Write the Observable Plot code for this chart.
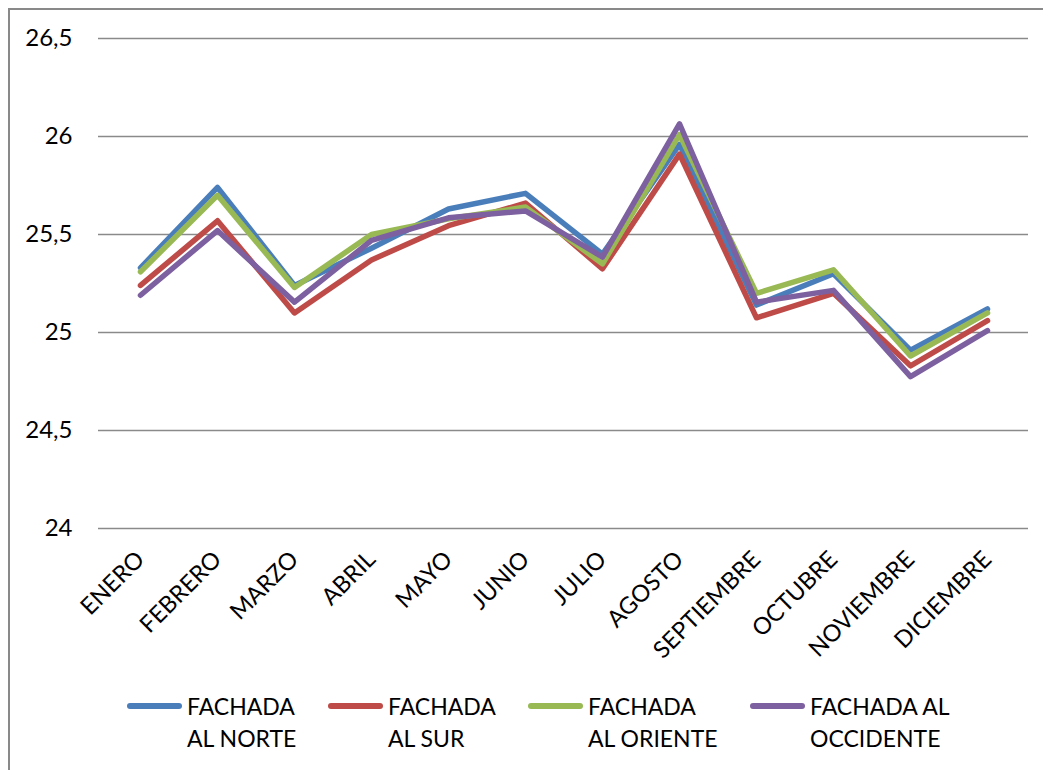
<!DOCTYPE html>
<html>
<head>
<meta charset="utf-8">
<script src="https://cdn.jsdelivr.net/npm/d3@7"></script>
<script src="https://cdn.jsdelivr.net/npm/@observablehq/plot@0.6"></script>
<style>
  html, body { margin: 0; padding: 0; background: #fff; }
  body { width: 1043px; height: 770px; overflow: hidden; position: relative; font-family: Lato, "Open Sans", sans-serif; }
  #frame { position: absolute; left: 8px; top: 8px; width: 1100px; height: 820px;
           border-left: 2px solid #898989; border-top: 2px solid #898989; }
  #chart { position: absolute; left: 0; top: 0; }
  .item { position: absolute; top: 690px; }
  .swatch { position: absolute; top: 13px; width: 55px; height: 6px; border-radius: 3px; }
  .label { position: absolute; left: 60px; top: 0; font-size: 23px; line-height: 32px; color: #000; white-space: nowrap; }
</style>
</head>
<body>
<div id="frame"></div>
<div id="chart"></div>
<div id="legend"></div>
<script>
// Monthly temperature by façade orientation (°C)
const meses = ["ENERO", "FEBRERO", "MARZO", "ABRIL", "MAYO", "JUNIO", "JULIO",
               "AGOSTO", "SEPTIEMBRE", "OCTUBRE", "NOVIEMBRE", "DICIEMBRE"];
const norte     = [25.33, 25.74, 25.24, 25.43, 25.63, 25.71, 25.40, 25.96, 25.14, 25.30, 24.91, 25.12];
const sur       = [25.24, 25.57, 25.10, 25.37, 25.545, 25.66, 25.325, 25.91, 25.075, 25.20, 24.83, 25.06];
const oriente   = [25.31, 25.70, 25.23, 25.50, 25.58, 25.64, 25.35, 26.01, 25.20, 25.32, 24.88, 25.10];
const occidente = [25.19, 25.52, 25.155, 25.47, 25.585, 25.62, 25.385, 26.065, 25.155, 25.215, 24.775, 25.01];

const series = ["FACHADA AL NORTE", "FACHADA AL SUR", "FACHADA AL ORIENTE", "FACHADA AL OCCIDENTE"];
const legendLines = [["FACHADA", "AL NORTE"], ["FACHADA", "AL SUR"], ["FACHADA", "AL ORIENTE"], ["FACHADA AL", "OCCIDENTE"]];
const colores = ["#4a7ebb", "#be4b48", "#98b954", "#7d60a0"];
const yTicks = [24, 24.5, 25, 25.5, 26, 26.5];

const valores = [norte, sur, oriente, occidente];
const data = series.flatMap((s, i) => meses.map((m, j) => ({serie: s, mes: m, valor: valores[i][j]})));

const chart = Plot.plot({
  width: 1043,
  height: 680,
  marginLeft: 98,
  marginRight: 15,
  marginTop: 38,
  marginBottom: 152,
  style: {fontSize: "23px", fontFamily: "Lato, 'Open Sans', sans-serif", color: "#000", background: "transparent"},
  x: {type: "point", domain: meses, padding: 0.5, label: null},
  y: {domain: [24, 26.5], label: null},
  color: {domain: series, range: colores},
  marks: [
    Plot.ruleY(yTicks, {stroke: "#8a8a8a", strokeWidth: 1.6}),
    Plot.axisY(yTicks, {tickSize: 0, tickPadding: 26, tickFormat: d => String(d).replace(".", ","), fontSize: 24}),
    Plot.axisX({tickSize: 0, tickPadding: 27, tickRotate: -45, fontSize: 23.5}),
    Plot.line(data, {x: "mes", y: "valor", z: "serie", stroke: "serie", strokeWidth: 5.5,
                     strokeLinejoin: "round", strokeLinecap: "round"})
  ]
});
document.getElementById("chart").appendChild(chart);

// Legend below the plot
const legend = document.getElementById("legend");
const lefts = [127, 328, 528, 750];
series.forEach((s, i) => {
  const item = document.createElement("div");
  item.className = "item";
  item.style.left = lefts[i] + "px";
  const sw = document.createElement("div");
  sw.className = "swatch";
  sw.style.background = colores[i];
  const lab = document.createElement("div");
  lab.className = "label";
  lab.innerHTML = legendLines[i].join("<br>");
  item.appendChild(sw);
  item.appendChild(lab);
  legend.appendChild(item);
});
</script>
</body>
</html>
